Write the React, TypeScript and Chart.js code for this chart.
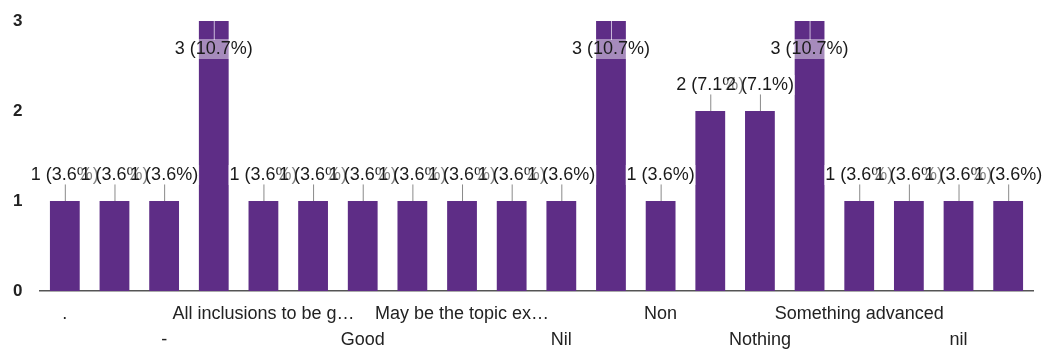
import React, { useEffect, useRef } from "react";
import { Chart, registerables } from "chart.js";

Chart.register(...registerables);

const categories: string[] = [
  ".",
  "..",
  "-",
  "All good",
  "All inclusions to be g…",
  "Everything is fine",
  "Good",
  "It was good",
  "May be the topic ex…",
  "NA",
  "Nil",
  "No",
  "Non",
  "None",
  "Nothing",
  "Nothing more",
  "Something advanced",
  "Very good",
  "nil",
  "no",
];

const counts: number[] = [1, 1, 1, 3, 1, 1, 1, 1, 1, 1, 1, 3, 1, 2, 2, 3, 1, 1, 1, 1];

const totalResponses = 28;

const yTicks: number[] = [0, 1, 2, 3];

const FONT = "'Liberation Sans', Arial, Helvetica, sans-serif";
const BAR_COLOR = "#5e2d86";

const labelPlugin = {
  id: "barValueLabels",
  afterDatasetsDraw(chart: any) {
    const ctx = chart.ctx;
    const meta = chart.getDatasetMeta(0);
    const area = chart.chartArea;
    ctx.save();
    ctx.font = `18px ${FONT}`;
    ctx.textAlign = "center";
    ctx.textBaseline = "middle";
    meta.data.forEach((bar: any, i: number) => {
      const v = counts[i];
      const text = `${v} (${((v / totalResponses) * 100).toFixed(1)}%)`;
      const x = bar.x;
      const top = bar.y;
      let cy: number;
      let inside = false;
      if (top - 27 - 10 < area.top - 12) {
        inside = true;
        cy = top + 28;
      } else {
        cy = top - 26;
      }
      // leader line
      ctx.beginPath();
      ctx.lineWidth = 1;
      if (inside) {
        ctx.strokeStyle = "rgba(230,220,240,0.8)";
        ctx.moveTo(x + 0.5, top);
        ctx.lineTo(x + 0.5, top + 19);
      } else {
        ctx.strokeStyle = "#8a8a8a";
        ctx.moveTo(x + 0.5, top - 17);
        ctx.lineTo(x + 0.5, top);
      }
      ctx.stroke();
      // label background
      const w = ctx.measureText(text).width;
      ctx.fillStyle = "rgba(255,255,255,0.45)";
      ctx.fillRect(x - w / 2 - 1, cy - 10, w + 2, 20);
      ctx.fillStyle = "#1a1a1a";
      ctx.fillText(text, x, cy);
    });
    ctx.restore();
  },
};

export default function App() {
  const canvasRef = useRef<HTMLCanvasElement | null>(null);

  useEffect(() => {
    if (!canvasRef.current) return;
    const chart = new Chart(canvasRef.current, {
      type: "bar",
      data: {
        labels: categories,
        datasets: [
          {
            data: counts,
            backgroundColor: BAR_COLOR,
            borderWidth: 0,
            barPercentage: 0.6,
            categoryPercentage: 1,
          },
        ],
      },
      options: {
        animation: false,
        responsive: true,
        maintainAspectRatio: false,
        layout: { padding: { top: 21, right: 9, bottom: 0, left: 13 } },
        plugins: {
          legend: { display: false },
          tooltip: { enabled: false },
        },
        scales: {
          x: {
            grid: { display: false, drawTicks: false },
            border: { display: true, color: "#555", width: 1.5 },
            afterFit: (scale: any) => {
              scale.height = 63;
            },
            ticks: {
              autoSkip: false,
              maxRotation: 0,
              minRotation: 0,
              padding: 10,
              color: "#222",
              font: { family: FONT, size: 18, lineHeight: 26 / 18 },
              callback: (_v: any, idx: number) => {
                if (idx % 2 !== 0) return "";
                const lbl = categories[idx];
                return idx % 4 === 0 ? [lbl] : ["", lbl];
              },
            },
          },
          y: {
            min: yTicks[0],
            max: yTicks[yTicks.length - 1],
            grid: { display: false, drawTicks: false },
            border: { display: false },
            afterFit: (scale: any) => {
              scale.width = 27;
            },
            afterBuildTicks: (scale: any) => {
              scale.ticks = yTicks.map((v) => ({ value: v }));
            },
            ticks: {
              padding: 2,
              crossAlign: "far",
              color: "#222",
              font: { family: FONT, size: 17, weight: "bold" },
            },
          },
        },
      },
      plugins: [labelPlugin],
    });
    return () => chart.destroy();
  }, []);

  return (
    <div style={{ position: "absolute", left: 0, top: 0, width: 1042, height: 354, background: "#fff" }}>
      <canvas ref={canvasRef} />
    </div>
  );
}
